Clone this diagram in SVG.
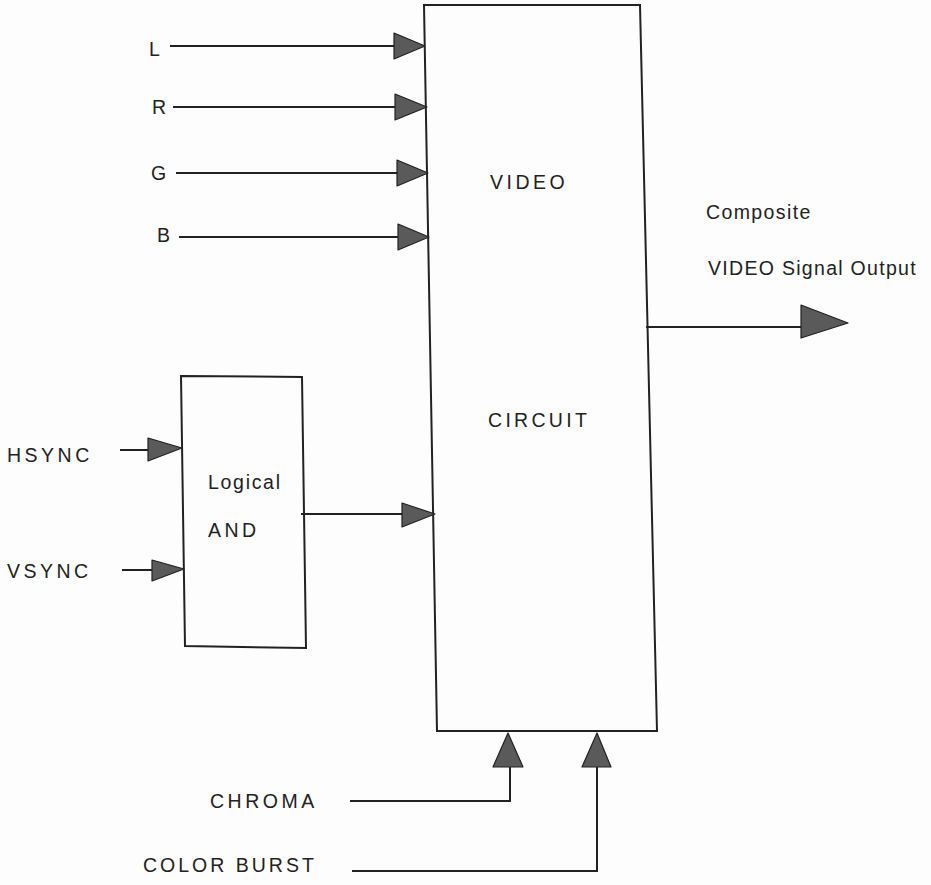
<svg xmlns="http://www.w3.org/2000/svg" width="931" height="885" viewBox="0 0 931 885">
<style>
.t{font-family:"Liberation Sans",Arial,sans-serif;font-size:19.5px;fill:#222;letter-spacing:3.5px}
.box{fill:none;stroke:#222;stroke-width:2}
.w{fill:none;stroke:#222;stroke-width:2}
.ah{fill:#5a5a5a;stroke:#222;stroke-width:1.2;stroke-linejoin:round}
</style>
<rect width="931" height="885" fill="#fdfdfd"/>
<g id="video-circuit">
<polygon class="box" points="424,5 640,5 657,731 437,731"/>
<text class="t" x="490" y="189">VIDEO</text>
<text class="t" x="488" y="427" style="letter-spacing:3.3px">CIRCUIT</text>
</g>
<g id="logical-and">
<polygon class="box" points="181,376 302,377 306,648 185,646"/>
<text class="t" x="208" y="489" style="letter-spacing:1.7px">Logical</text>
<text class="t" x="208" y="537">AND</text>
</g>
<g id="labels">
<text class="t" x="149" y="56">L</text>
<text class="t" x="152" y="114">R</text>
<text class="t" x="151" y="180">G</text>
<text class="t" x="157" y="242">B</text>
<text class="t" x="7" y="462">HSYNC</text>
<text class="t" x="7" y="578">VSYNC</text>
<text class="t" x="210" y="808">CHROMA</text>
<text class="t" x="143" y="872" style="letter-spacing:3px">COLOR BURST</text>
<text class="t" x="706" y="219" style="letter-spacing:1.4px">Composite</text>
<text class="t" x="708" y="275" style="letter-spacing:1.3px">VIDEO Signal Output</text>
</g>
<g id="connectors">
<line class="w" x1="170" y1="46" x2="395" y2="46"/>
<polygon class="ah" points="394,33 425,46 394,59"/>
<line class="w" x1="173" y1="107" x2="396" y2="107"/>
<polygon class="ah" points="395,94 427,107 395,120"/>
<line class="w" x1="176" y1="173" x2="398" y2="173"/>
<polygon class="ah" points="397,160 428,173 397,186"/>
<line class="w" x1="179" y1="237" x2="399" y2="237"/>
<polygon class="ah" points="398,224 429,237 398,250"/>
<line class="w" x1="120" y1="450" x2="149" y2="450"/>
<polygon class="ah" points="148,438 182,448 148,461"/>
<line class="w" x1="122" y1="570" x2="153" y2="570"/>
<polygon class="ah" points="152,560 184,569 152,581"/>
<line class="w" x1="301" y1="514" x2="403" y2="514"/>
<polygon class="ah" points="402,503 435,514 402,527"/>
<line class="w" x1="646" y1="327" x2="802" y2="327"/>
<polygon class="ah" points="801,305 848,323 801,338"/>
<polyline class="w" points="350,801 510,801 510,766"/>
<polygon class="ah" points="493,767 508,733 523,767"/>
<polyline class="w" points="352,871 597,871 597,766"/>
<polygon class="ah" points="582,767 597,733 611,767"/>
</g>
</svg>
